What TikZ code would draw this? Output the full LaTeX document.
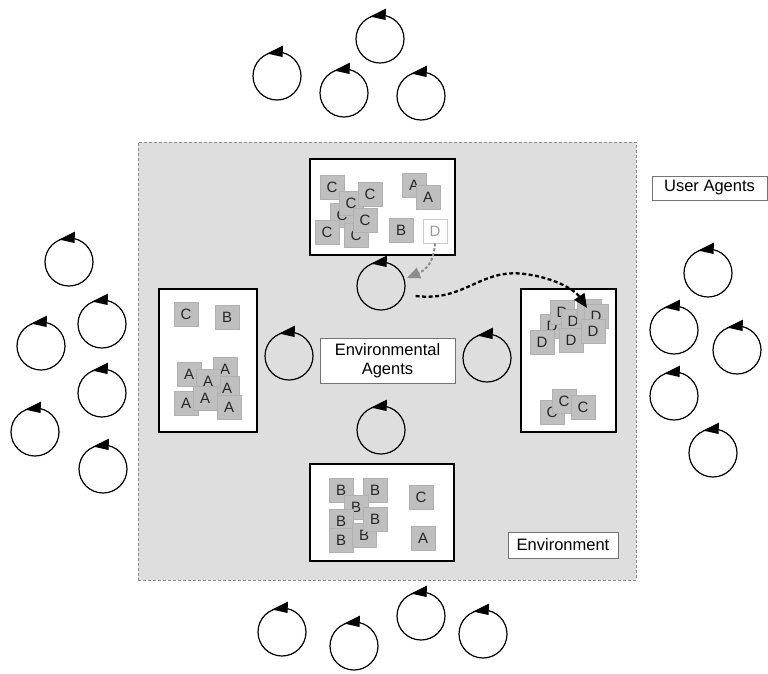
\documentclass[tikz,border=0pt]{standalone}
\usepackage{fontspec}
\setmainfont{Liberation Sans}
\usetikzlibrary{arrows.meta}
\begin{document}
\begin{tikzpicture}[x=1pt,y=-1pt,
  agent/.style={circle,draw=black,line width=1.2pt,minimum size=48pt,inner sep=0pt},
  sq/.style={rectangle,fill=black!25,draw=black!31,line width=0.6pt,minimum size=24pt,inner sep=0pt,text=black!85,font=\fontsize{15}{15}\selectfont},
  wsq/.style={sq,fill=white,draw=black!20,text=black!40},
  bin/.style={rectangle,draw=black,fill=white,line width=2pt,inner sep=0pt},
  envbg/.style={rectangle,fill=black!13,draw=black!45,dash pattern=on 3pt off 2pt,line width=0.9pt,inner sep=0pt},
  lbl/.style={rectangle,fill=white,draw=black!55,line width=0.7pt,inner sep=0pt,align=center,font=\fontsize{16.5}{19}\selectfont}]
\useasboundingbox (0,0) rectangle (768,673);

% environment
\node[envbg,minimum width=498pt,minimum height=438pt] (env) at (387,361) {};

% bins
\node[bin,minimum width=145pt,minimum height=96pt] (topbin) at (382.5,207) {};
\node[bin,minimum width=98pt,minimum height=143pt] (leftbin) at (208,360.5) {};
\node[bin,minimum width=95pt,minimum height=143pt] (rightbin) at (568.5,360.5) {};
\node[bin,minimum width=144pt,minimum height=97pt] (botbin) at (382,512.5) {};

% top bin items
\node[sq] (t1) at (342,215) {C};
\node[sq] (t2) at (332,187) {C};
\node[sq] (t3) at (351,203) {C};
\node[sq] (t4) at (370,194) {C};
\node[sq] (t5) at (356,235) {C};
\node[sq] (t6) at (365,220) {C};
\node[sq] (t7) at (327,232) {C};
\node[sq] (t8) at (414,185) {A};
\node[sq] (t9) at (428,197) {A};
\node[sq] (t10) at (401,230) {B};
\node[wsq] (tD) at (435,231) {D};

% left bin items
\node[sq] (l1) at (186,314) {C};
\node[sq] (l2) at (227,317) {B};
\node[sq] (l3) at (189,374) {A};
\node[sq] (l4) at (225,369) {A};
\node[sq] (l5) at (227,388) {A};
\node[sq] (l6) at (208,381) {A};
\node[sq] (l7) at (186,403) {A};
\node[sq] (l8) at (205,398) {A};
\node[sq] (l9) at (229,407) {A};

% right bin items
\node[sq] (r2) at (552,326) {D};
\node[sq] (r1) at (562,312) {D};
\node[sq] (r3) at (573,321) {D};
\node[sq] (r4) at (589,311) {};
\node[sq] (r5) at (596,316) {D};
\node[sq] (r8) at (571,340) {D};
\node[sq] (r6) at (593,331) {D};
\node[sq] (r7) at (542,342) {D};
\node[sq] (r9) at (552,412) {C};
\node[sq] (r10) at (564,401) {C};
\node[sq] (r11) at (583,407) {C};

% bottom bin items
\node[sq] (b1) at (341,490) {B};
\node[sq] (b2) at (375,490) {B};
\node[sq] (b3) at (356,507) {B};
\node[sq] (b4) at (341,521) {B};
\node[sq] (b6) at (341,540) {B};
\node[sq] (b7) at (364,535) {B};
\node[sq] (b5) at (375,519) {B};
\node[sq] (b8) at (421,497) {C};
\node[sq] (b9) at (423,538) {A};

% labels
\node[lbl,minimum width=115pt,minimum height=24pt] (ulabel) at (709.5,188) {User Agents};
\node[lbl,minimum width=135pt,minimum height=45pt] (ealabel) at (387.5,360.5) {Environmental\\Agents};
\node[lbl,minimum width=110pt,minimum height=26pt] (envlabel) at (563,545) {Environment};

% agents
\foreach \n/\x/\y in {
  u1/380/39, u2/277/76, u3/344/93, u4/421/96,
  u5/69/262, u6/102/324, u7/41/346, u8/102/393, u9/35/432, u10/103/469,
  u11/708/273, u12/674/330, u13/737/350, u14/674/396, u15/713/453,
  u16/282/632, u17/354/646, u18/421/616, u19/483/634,
  e1/381/286, e2/289/356, e3/487/358, e4/381/430} {
  \node[agent] (\n) at (\x,\y) {};
  \fill[black] (\n.center) ++(-10,-22.5) -- ++(16,-8) -- ++(-0.5,11.5) -- cycle;
}

% arrows
\coordinate (gtip) at (407,278);
\coordinate (btip) at (587,308);
\draw[black!45,line width=2pt,dash pattern=on 3pt off 2pt,-{Triangle[length=13pt,width=11pt]}]
  (tD.south) .. controls (434,262) and (426,270) .. (gtip);
\draw[black,line width=2.3pt,dash pattern=on 4pt off 2.5pt,-{Triangle[length=14pt,width=12pt]}]
  (e1.east) ++(10,10) .. controls (465,302) and (480,268) .. (525,274) .. controls (555,278) and (575,290) .. (btip);
\end{tikzpicture}
\end{document}
